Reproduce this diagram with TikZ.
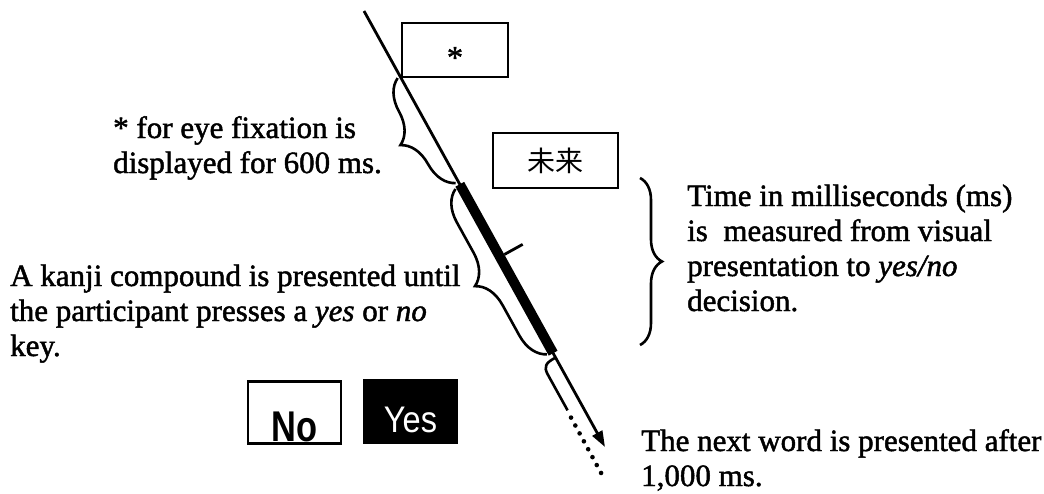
\documentclass[tikz,border=0pt]{standalone}
\usepackage{graphicx}
\usepackage{fontspec}
\setmainfont{Liberation Serif}[FakeBold=1.5]
\newfontfamily\cjk{Noto Sans CJK JP}
\newfontfamily\sansf{Liberation Sans}
\usetikzlibrary{arrows.meta,decorations.pathreplacing}

\begin{document}
\begin{tikzpicture}[x=1pt,y=1pt,
  txt/.style={inner sep=0pt, align=left, font=\fontsize{31}{35}\selectfont},
  framebox/.style={draw, line width=1.8pt, inner sep=0pt},
  keybox/.style={draw, line width=2.2pt, inner sep=0pt, minimum width=93pt, minimum height=62pt},
  bracestyle/.style={line width=2.6pt, decorate, decoration={brace, mirror, amplitude=#1}},
  rbrace/.style={line width=2.6pt, decorate, decoration={brace, amplitude=#1}},
  timeline/.style={line width=2.8pt, -{Triangle[length=16pt,width=11pt]}},
  dots/.style={line width=4.6pt, line cap=round, dash pattern=on 0pt off 9pt}
]
\useasboundingbox (0,0) rectangle (1044,-493);

% time line in a rotated frame: local x along the line, local y to the upper right
\begin{scope}[shift={(364,-11)}, rotate=-61.07]
  \coordinate (top) at (0,0);
  \coordinate (tip) at (498.2,0);
  \coordinate (ts) at (198,0);
  \coordinate (te) at (391,0);
  \coordinate (k1) at (281,5);
  \coordinate (k2) at (281,26);
  \coordinate (b1a) at (75,-3);
  \coordinate (b1b) at (195,-3);
  \coordinate (b2a) at (200,-6);
  \coordinate (b2b) at (389,-6);
  \coordinate (b3a) at (396,-1);
  \coordinate (b3c1) at (396,-11);
  \coordinate (b3c2) at (398,-15);
  \coordinate (b3b) at (407,-15);
  \coordinate (b3c) at (448,-15);
  \coordinate (d1) at (456,-15.5);
  \coordinate (d2) at (520,-16);
\end{scope}

\draw[timeline] (top) -- (tip);
\draw[line width=10pt] (ts) -- (te);
\draw[line width=2.8pt] (k1) -- (k2);
\draw[bracestyle=30pt] (b1a) -- (b1b);
\draw[bracestyle=30pt] (b2a) -- (b2b);
\draw[line width=2.6pt] (b3a) .. controls (b3c1) and (b3c2) .. (b3b) -- (b3c);
\draw[dots] (d1) -- (d2);

% right brace
\coordinate (rb1) at (640,-178);
\coordinate (rb2) at (640,-345);
\draw[rbrace=22pt] (rb1) -- (rb2);

% stimulus boxes
\node[framebox, minimum width=106pt, minimum height=54pt] (star) at (455,-50)
  {\fontsize{32}{32}\selectfont\raisebox{-18pt}[0pt][0pt]{*}};
\node[framebox, minimum width=125pt, minimum height=55pt] (mirai) at (555.5,-160.5)
  {\cjk\fontsize{28}{28}\selectfont\raisebox{-11pt}[0pt][0pt]{未来}};

% response keys
\node[keybox] (no) at (294.5,-412.5)
  {\sansf\bfseries\fontsize{43}{43}\selectfont\raisebox{-28.5pt}[0pt][0pt]{\scalebox{0.8}[1]{No}}};
\node[keybox, fill=black] (yes) at (410.5,-411.5)
  {\sansf\fontsize{37}{37}\selectfont\color{white}\raisebox{-20.5pt}[0pt][0pt]{\scalebox{0.88}[1]{Yes}}};

% texts (anchor = baseline of the last line)
\node[txt, anchor=base west] (fixtxt) at (113,-173)
  {* for eye fixation is\\displayed for 600 ms.};
\node[txt, anchor=base west] (kanjitxt) at (10,-356)
  {A kanji compound is presented until\\the participant presses a \textit{yes} or \textit{no}\\key.};
\node[txt, anchor=base west] (timetxt) at (687,-311)
  {Time in milliseconds (ms)\\is\ \ measured from visual\\presentation to \textit{yes/no}\\decision.};
\node[txt, anchor=base west] (nexttxt) at (641,-486)
  {The next word is presented after\\1,000 ms.};
\end{tikzpicture}
\end{document}
